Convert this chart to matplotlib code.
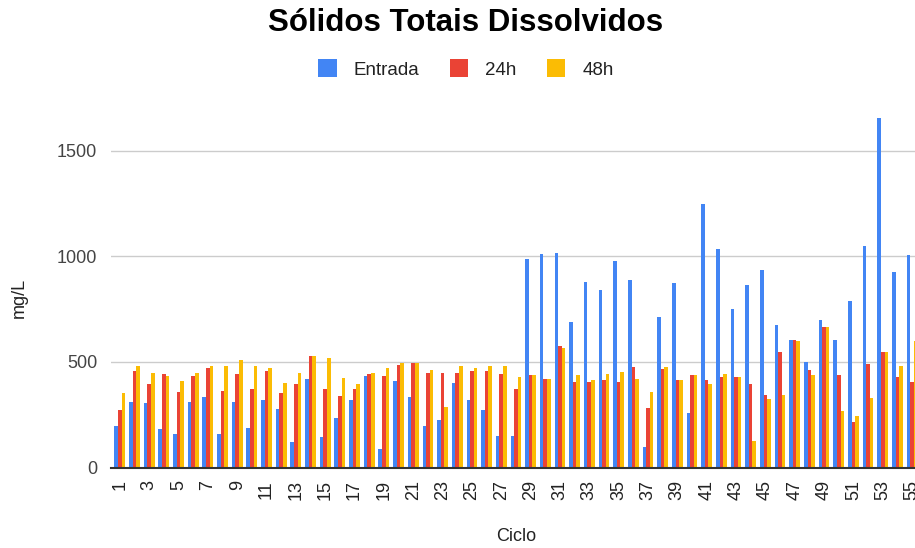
import matplotlib
matplotlib.use("Agg")
import matplotlib.pyplot as plt
import numpy as np
from matplotlib.patches import Patch

plt.rcParams["font.family"] = ["Liberation Sans", "DejaVu Sans"]

# values (mg/L), cycles 1..55
cycles = list(range(1, 56))
entrada = [
    197, 311, 304, 181, 158, 311, 333, 158, 311, 189,
    318, 280, 120, 418, 143, 234, 319, 434, 90, 410,
    333, 197, 226, 403, 319, 272, 151, 152, 986, 1009,
    1017, 689, 879, 841, 979, 887, 99, 712, 873, 261,
    1248, 1034, 751, 866, 935, 674, 606, 499, 697, 606,
    789, 1050, 1653, 927, 1004,
]
h24 = [
    272, 456, 396, 442, 358, 434, 472, 365, 442, 373,
    456, 351, 396, 527, 373, 341, 373, 442, 434, 488,
    496, 449, 449, 449, 456, 456, 442, 374, 437, 421,
    574, 406, 406, 413, 406, 475, 283, 467, 413, 437,
    414, 430, 430, 398, 345, 545, 606, 460, 667, 437,
    215, 491, 545, 430, 406,
]
h48 = [
    351, 480, 448, 434, 410, 448, 480, 480, 509, 480,
    472, 403, 448, 527, 517, 426, 396, 449, 472, 496,
    496, 461, 288, 480, 472, 480, 480, 429, 437, 421,
    566, 437, 413, 445, 453, 421, 360, 475, 413, 437,
    398, 445, 430, 124, 323, 345, 598, 437, 667, 269,
    246, 331, 545, 483, 598,
]
series_names = ["Entrada", "24h", "48h"]
series_colors = ["#4285F4", "#EA4335", "#FBBC04"]

W, H = 915, 548
fig = plt.figure(figsize=(W / 100, H / 100), dpi=100)
# plot area: left edge ~111px, baseline ~468px, runs past the right edge
left, bottom, top = 111, 467.7, 100
ax = fig.add_axes([left / W, 1 - bottom / H, 1 - left / W, (bottom - top) / H])

x = np.array(cycles)
bar_w = 0.245
for i, (vals, name, color) in enumerate(zip([entrada, h24, h48], series_names, series_colors)):
    ax.bar(x + (i - 1) * bar_w, vals, width=bar_w, color=color, label=name,
           linewidth=0, zorder=3)

ax.set_xlim(0.40, 55.2)
ax.set_ylim(0, 500 * (bottom - top) / 105.7)
ax.set_yticks([0, 500, 1000, 1500])
ax.set_xticks(cycles[::2])
ax.tick_params(axis="x", rotation=90, length=0, pad=9, labelsize=13, labelcolor="#222222")
ax.tick_params(axis="y", length=0, pad=10, labelsize=13, labelcolor="#444444")
ax.grid(axis="y", color="#cccccc", linewidth=1, zorder=0)
for s in ["top", "right", "left"]:
    ax.spines[s].set_visible(False)
ax.spines["bottom"].set_color("#333333")
ax.spines["bottom"].set_linewidth(1.5)
ax.spines["bottom"].set_zorder(4)

fig.text(465.5 / W, 1 - 23 / H, "Sólidos Totais Dissolvidos", ha="center", va="center",
         fontsize=22.5, fontweight="bold", color="#000000")
fig.text(516.5 / W, 1 - 536.5 / H, "Ciclo", ha="center", va="center", fontsize=13, color="#222222")
fig.text(19 / W, 1 - 298 / H, "mg/L", ha="center", va="center", rotation=90,
         fontsize=13, color="#222222")

handles = [Patch(facecolor=c, edgecolor="none") for c in series_colors]
fig.legend(handles, series_names, loc="center", bbox_to_anchor=(466 / W, 1 - 69 / H),
           ncol=3, frameon=False, fontsize=13.5, handlelength=1.0, handleheight=1.1,
           handletextpad=0.9, columnspacing=1.6, labelcolor="#222222")

fig.savefig("out.png", dpi=100)
